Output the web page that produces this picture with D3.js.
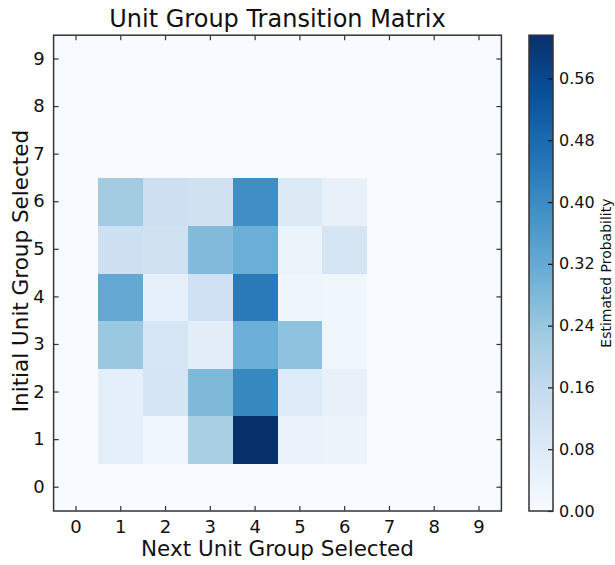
<!DOCTYPE html>
<html>
<head>
<meta charset="utf-8">
<script src="https://cdn.jsdelivr.net/npm/d3@7"></script>
<style>
  html, body { margin: 0; padding: 0; background: #fff; }
  svg { display: block; font-family: "DejaVu Sans", sans-serif; }
</style>
</head>
<body>
<svg id="chart" width="615" height="565"></svg>
<script>
// Unit groups on both axes
const groups = [0, 1, 2, 3, 4, 5, 6, 7, 8, 9];

// Transition probabilities: row = initial group, column = next group
const row0 = [0, 0, 0, 0, 0, 0, 0, 0, 0, 0];
const row1 = [0, 0.059, 0.025, 0.210, 0.616, 0.040, 0.037, 0, 0, 0];
const row2 = [0, 0.059, 0.106, 0.278, 0.406, 0.080, 0.046, 0, 0, 0];
const row3 = [0, 0.237, 0.103, 0.062, 0.308, 0.254, 0.025, 0, 0, 0];
const row4 = [0, 0.323, 0.052, 0.125, 0.441, 0.028, 0.025, 0, 0, 0];
const row5 = [0, 0.132, 0.122, 0.273, 0.308, 0.034, 0.106, 0, 0, 0];
const row6 = [0, 0.221, 0.132, 0.122, 0.392, 0.083, 0.046, 0, 0, 0];
const row7 = [0, 0, 0, 0, 0, 0, 0, 0, 0, 0];
const row8 = [0, 0, 0, 0, 0, 0, 0, 0, 0, 0];
const row9 = [0, 0, 0, 0, 0, 0, 0, 0, 0, 0];
const matrix = [row0, row1, row2, row3, row4, row5, row6, row7, row8, row9];

// Colorbar tick values
const cbarTicks = [0.00, 0.08, 0.16, 0.24, 0.32, 0.40, 0.48, 0.56];

// Blues colour stops (ColorBrewer 9-class, linearly interpolated)
const bluesStops = ["#f7fbff", "#deebf7", "#c6dbef", "#9ecae1", "#6baed6",
                    "#4292c6", "#2171b5", "#08519c", "#08306b"];

const svg = d3.select("#chart");
const frameColor = "#333";

const plot = { left: 53.6, right: 501.4, top: 35.2, bottom: 511 };
const cbar = { left: 529, right: 553, top: 35.2, bottom: 511 };

const vmax = d3.max(matrix.flat());

const x = d3.scaleBand().domain(groups).range([plot.left, plot.right]).padding(0);
const y = d3.scaleBand().domain(groups.slice().reverse()).range([plot.top, plot.bottom]).padding(0);

const blues = d3.scaleLinear()
  .domain(bluesStops.map((_, i) => i / (bluesStops.length - 1)))
  .range(bluesStops)
  .interpolate(d3.interpolateRgb)
  .clamp(true);
const color = v => blues(v / vmax);

// Heatmap cells
const cells = [];
matrix.forEach((row, r) => row.forEach((v, c) => cells.push({ r, c, v })));

svg.append("g")
  .selectAll("rect")
  .data(cells)
  .join("rect")
  .attr("x", d => x(d.c))
  .attr("y", d => y(d.r))
  .attr("width", x.bandwidth() + 0.5)
  .attr("height", y.bandwidth() + 0.5)
  .attr("fill", d => color(d.v))
  .attr("shape-rendering", "crispEdges");

// Axes with inward ticks on all four sides
const tickLen = 5;
function styleAxis(g) {
  g.select(".domain").remove();
  g.selectAll(".tick line").attr("stroke", frameColor).attr("stroke-width", 1.2);
  g.selectAll(".tick text").attr("fill", "#111").attr("font-size", 18)
    .attr("font-family", "DejaVu Sans, sans-serif");
}

svg.append("g")
  .attr("transform", `translate(0,${plot.bottom})`)
  .call(d3.axisBottom(x).tickSizeInner(-tickLen).tickSizeOuter(0).tickPadding(9))
  .call(styleAxis)
  .selectAll(".tick text").attr("dy", "0.71em");

svg.append("g")
  .attr("transform", `translate(0,${plot.top})`)
  .call(d3.axisTop(x).tickSizeInner(-tickLen).tickSizeOuter(0).tickFormat(""))
  .call(styleAxis);

svg.append("g")
  .attr("transform", `translate(${plot.left},0)`)
  .call(d3.axisLeft(y).tickSizeInner(-tickLen).tickSizeOuter(0).tickPadding(9))
  .call(styleAxis);

svg.append("g")
  .attr("transform", `translate(${plot.right},0)`)
  .call(d3.axisRight(y).tickSizeInner(-tickLen).tickSizeOuter(0).tickFormat(""))
  .call(styleAxis);

// Plot frame
svg.append("rect")
  .attr("x", plot.left).attr("y", plot.top)
  .attr("width", plot.right - plot.left).attr("height", plot.bottom - plot.top)
  .attr("fill", "none").attr("stroke", frameColor).attr("stroke-width", 1.5);

// Title and axis labels
svg.append("text")
  .attr("x", (plot.left + plot.right) / 2).attr("y", 27)
  .attr("text-anchor", "middle").attr("font-size", 24).attr("fill", "#111")
  .text("Unit Group Transition Matrix");

svg.append("text")
  .attr("x", (plot.left + plot.right) / 2).attr("y", 556)
  .attr("text-anchor", "middle").attr("font-size", 21.5).attr("fill", "#111")
  .text("Next Unit Group Selected");

svg.append("text")
  .attr("transform", `translate(28,${(plot.top + plot.bottom) / 2 - 2}) rotate(-90)`)
  .attr("text-anchor", "middle").attr("font-size", 21.5).attr("fill", "#111")
  .text("Initial Unit Group Selected");

// Colorbar
const defs = svg.append("defs");
const grad = defs.append("linearGradient")
  .attr("id", "cbarGrad")
  .attr("x1", 0).attr("y1", 1).attr("x2", 0).attr("y2", 0);
grad.selectAll("stop")
  .data(bluesStops)
  .join("stop")
  .attr("offset", (_, i) => i / (bluesStops.length - 1))
  .attr("stop-color", d => d);

const cy = d3.scaleLinear().domain([0, vmax]).range([cbar.bottom, cbar.top]);

svg.append("rect")
  .attr("x", cbar.left).attr("y", cbar.top)
  .attr("width", cbar.right - cbar.left).attr("height", cbar.bottom - cbar.top)
  .attr("fill", "url(#cbarGrad)");

svg.append("g")
  .attr("transform", `translate(${cbar.right},0)`)
  .call(d3.axisRight(cy).tickValues(cbarTicks).tickFormat(d3.format(".2f"))
    .tickSizeInner(-tickLen).tickSizeOuter(0).tickPadding(6))
  .call(g => {
    g.select(".domain").remove();
    g.selectAll(".tick line").attr("stroke", "#111").attr("stroke-width", 1.2);
    g.selectAll(".tick text").attr("fill", "#111").attr("font-size", 16)
      .attr("font-family", "DejaVu Sans, sans-serif");
  });

svg.append("rect")
  .attr("x", cbar.left).attr("y", cbar.top)
  .attr("width", cbar.right - cbar.left).attr("height", cbar.bottom - cbar.top)
  .attr("fill", "none").attr("stroke", frameColor).attr("stroke-width", 1.5);

svg.append("text")
  .attr("transform", `translate(611,${(cbar.top + cbar.bottom) / 2}) rotate(-90)`)
  .attr("text-anchor", "middle").attr("font-size", 14).attr("fill", "#111")
  .text("Estimated Probability");
</script>
</body>
</html>
